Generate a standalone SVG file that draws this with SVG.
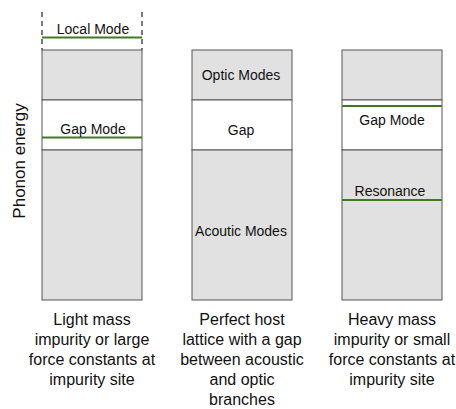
<svg xmlns="http://www.w3.org/2000/svg" width="456" height="409" viewBox="0 0 456 409">
<style>
text{font-family:"Liberation Sans",Arial,sans-serif;fill:#111}
.lbl{font-size:14px;text-anchor:middle}
.cap{font-size:16px;text-anchor:middle}
.band{fill:#e1e1e1;stroke:#555;stroke-width:1}
.gap{fill:#fff;stroke:#555;stroke-width:1}
.mode{stroke:#3f7a1c;stroke-width:2}
.dash{stroke:#222;stroke-width:1.2;stroke-dasharray:5,4;fill:none}
</style>
<rect width="456" height="409" fill="#fff"/>
<text x="25" y="161" font-size="17" text-anchor="middle" transform="rotate(-90 25 161)">Phonon energy</text>
<g id="col1">
<line class="dash" x1="42" y1="12" x2="42" y2="50"/>
<line class="dash" x1="142" y1="12" x2="142" y2="50"/>
<rect class="band" x="42" y="50" width="100" height="50"/>
<rect class="gap" x="42" y="100" width="100" height="50"/>
<rect class="band" x="42" y="150" width="100" height="150"/>
<line class="mode" x1="42" y1="37.5" x2="142" y2="37.5"/>
<line class="mode" x1="42" y1="137.5" x2="142" y2="137.5"/>
<text class="lbl" x="93" y="34">Local Mode</text>
<text class="lbl" x="93" y="134">Gap Mode</text>
<text class="cap" x="92" y="325">Light mass</text>
<text class="cap" x="92" y="345">impurity or large</text>
<text class="cap" x="92" y="365">force constants at</text>
<text class="cap" x="92" y="385">impurity site</text>
</g>
<g id="col2">
<rect class="band" x="192" y="50" width="100" height="50"/>
<rect class="gap" x="192" y="100" width="100" height="50"/>
<rect class="band" x="192" y="150" width="100" height="150"/>
<text class="lbl" x="241" y="80">Optic Modes</text>
<text class="lbl" x="241" y="135">Gap</text>
<text class="lbl" x="241" y="236">Acoutic Modes</text>
<text class="cap" x="242" y="325">Perfect host</text>
<text class="cap" x="242" y="345">lattice with a gap</text>
<text class="cap" x="242" y="365">between acoustic</text>
<text class="cap" x="242" y="385">and optic</text>
<text class="cap" x="242" y="405">branches</text>
</g>
<g id="col3">
<rect class="band" x="342" y="50" width="100" height="50"/>
<rect class="gap" x="342" y="100" width="100" height="50"/>
<rect class="band" x="342" y="150" width="100" height="150"/>
<line class="mode" x1="342" y1="106" x2="442" y2="106"/>
<line class="mode" x1="342" y1="200" x2="442" y2="200"/>
<text class="lbl" x="392" y="125">Gap Mode</text>
<text class="lbl" x="390" y="196">Resonance</text>
<text class="cap" x="392" y="325">Heavy mass</text>
<text class="cap" x="392" y="345">impurity or small</text>
<text class="cap" x="392" y="365">force constants at</text>
<text class="cap" x="392" y="385">impurity site</text>
</g>
<g id="connectors"></g>
</svg>
